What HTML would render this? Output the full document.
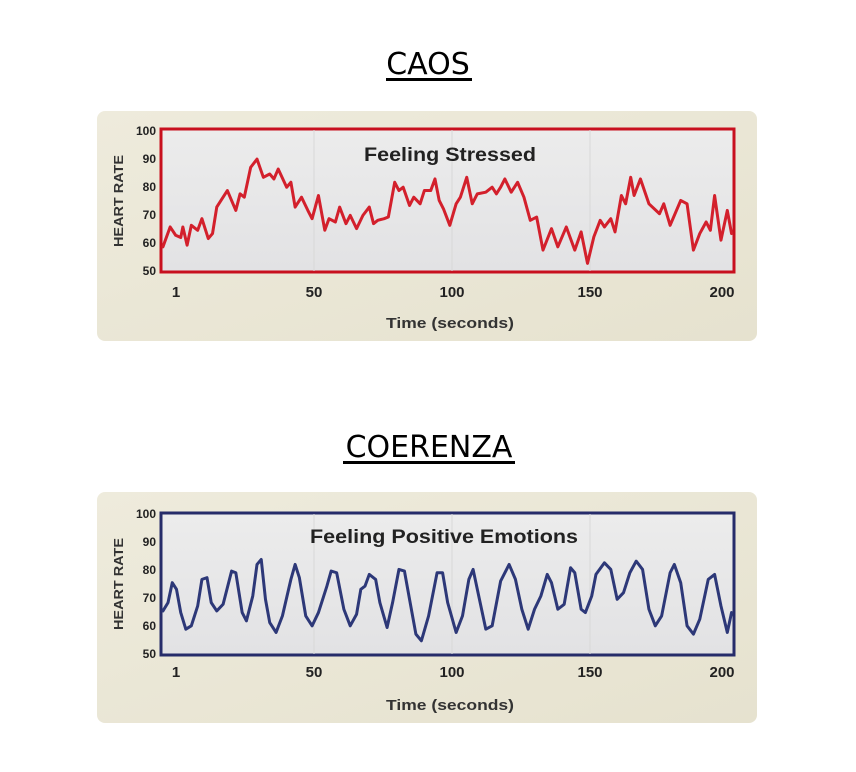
<!DOCTYPE html>
<html><head><meta charset="utf-8"><style>
html,body{margin:0;padding:0;background:#fff;width:856px;height:772px;overflow:hidden}
svg{display:block}
</style></head><body>
<svg width="856" height="772" viewBox="0 0 856 772" xmlns="http://www.w3.org/2000/svg" font-family="Liberation Sans, Arial, sans-serif">
<defs>
<linearGradient id="bg" x1="0" y1="0" x2="1" y2="1"><stop offset="0" stop-color="#eeebdc"/><stop offset="1" stop-color="#e6e2cf"/></linearGradient>
<linearGradient id="pl" x1="0" y1="0" x2="0" y2="1"><stop offset="0" stop-color="#ececec"/><stop offset="1" stop-color="#e2e2e4"/></linearGradient>
</defs>
<text x="428" y="74" text-anchor="middle" font-family="DejaVu Sans, sans-serif" font-size="30" fill="#000">CAOS</text>
<rect x="386" y="78" width="86" height="3" fill="#000"/>
<text x="429" y="457" text-anchor="middle" font-family="DejaVu Sans, sans-serif" font-size="30" fill="#000">COERENZA</text>
<rect x="343" y="461" width="172" height="3" fill="#000"/>

<rect x="97" y="111" width="660" height="230" rx="8" fill="url(#bg)"/>
<rect x="161" y="129" width="573" height="143" fill="url(#pl)" stroke="#c8101e" stroke-width="3"/>
<g stroke="#d8d8d8" stroke-width="1"><line x1="314" y1="130" x2="314" y2="271"/><line x1="452" y1="130" x2="452" y2="271"/><line x1="590" y1="130" x2="590" y2="271"/></g>
<g font-weight="bold" font-size="12" fill="#222" text-anchor="end">
<text x="156" y="135">100</text><text x="156" y="163">90</text><text x="156" y="191">80</text><text x="156" y="219">70</text><text x="156" y="247">60</text><text x="156" y="275">50</text></g>
<g font-weight="bold" font-size="15" fill="#222" text-anchor="middle">
<text x="176" y="297">1</text><text x="314" y="297">50</text><text x="452" y="297">100</text><text x="590" y="297">150</text><text x="722" y="297">200</text></g>
<text x="450" y="161" text-anchor="middle" font-size="19" font-weight="bold" fill="#222" textLength="172" lengthAdjust="spacingAndGlyphs">Feeling Stressed</text>
<text x="450" y="328" text-anchor="middle" font-size="15" font-weight="bold" fill="#333" textLength="128" lengthAdjust="spacingAndGlyphs">Time (seconds)</text>
<text transform="translate(123,201) rotate(-90)" text-anchor="middle" font-size="13" font-weight="bold" fill="#333" textLength="92" lengthAdjust="spacingAndGlyphs">HEART RATE</text>
<g transform="translate(96,107.8) scale(0.4237,0.331)">
<polyline fill="none" stroke="#d3202c" stroke-width="3" vector-effect="non-scaling-stroke" stroke-linejoin="round" stroke-linecap="round" points="158,420 175,360 188,385 200,392 205,360 215,415 225,355 240,370 250,335 265,395 275,380 285,300 295,280 310,250 330,310 340,260 350,270 365,180 380,155 395,210 410,200 420,215 430,185 450,240 460,225 470,300 485,270 500,310 510,335 525,265 540,370 550,335 565,345 575,300 590,350 600,325 615,365 630,325 645,300 655,350 665,340 680,335 690,330 705,225 715,250 725,240 740,295 750,270 765,290 775,250 790,250 800,215 810,280 820,305 835,355 850,290 860,270 875,210 888,290 900,260 920,255 935,240 945,260 955,240 965,215 980,255 995,225 1010,270 1025,340 1040,330 1055,430 1075,365 1090,420 1110,360 1130,430 1145,375 1160,470 1175,390 1190,340 1200,360 1215,335 1225,375 1240,265 1250,290 1262,210 1270,265 1285,215 1305,290 1330,320 1340,290 1355,355 1380,280 1395,290 1410,430 1425,380 1440,345 1450,370 1460,265 1475,400 1490,310 1500,380"/>
</g>

<rect x="97" y="492" width="660" height="231" rx="8" fill="url(#bg)"/>
<rect x="161" y="513" width="573" height="142" fill="url(#pl)" stroke="#262c6a" stroke-width="3"/>
<g stroke="#d8d8d8" stroke-width="1"><line x1="314" y1="514" x2="314" y2="654"/><line x1="452" y1="514" x2="452" y2="654"/><line x1="590" y1="514" x2="590" y2="654"/></g>
<g font-weight="bold" font-size="12" fill="#222" text-anchor="end">
<text x="156" y="518">100</text><text x="156" y="546">90</text><text x="156" y="574">80</text><text x="156" y="602">70</text><text x="156" y="630">60</text><text x="156" y="658">50</text></g>
<g font-weight="bold" font-size="15" fill="#222" text-anchor="middle">
<text x="176" y="677">1</text><text x="314" y="677">50</text><text x="452" y="677">100</text><text x="590" y="677">150</text><text x="722" y="677">200</text></g>
<text x="444" y="543" text-anchor="middle" font-size="19" font-weight="bold" fill="#222" textLength="268" lengthAdjust="spacingAndGlyphs">Feeling Positive Emotions</text>
<text x="450" y="710" text-anchor="middle" font-size="15" font-weight="bold" fill="#333" textLength="128" lengthAdjust="spacingAndGlyphs">Time (seconds)</text>
<text transform="translate(123,584) rotate(-90)" text-anchor="middle" font-size="13" font-weight="bold" fill="#333" textLength="92" lengthAdjust="spacingAndGlyphs">HEART RATE</text>
<g transform="translate(96,489.8) scale(0.4237,0.3318)">
<polyline fill="none" stroke="#2d3878" stroke-width="3" vector-effect="non-scaling-stroke" stroke-linejoin="round" stroke-linecap="round" points="158,365 170,340 180,280 190,300 200,370 212,420 225,410 240,350 250,270 262,265 272,340 285,365 300,345 320,245 330,250 345,370 355,395 370,320 380,225 390,210 400,330 410,400 425,430 440,380 460,270 470,225 480,265 495,380 510,410 525,370 545,290 555,245 568,250 585,360 600,410 615,375 625,300 635,290 645,255 660,270 670,340 687,415 700,340 715,240 728,245 740,330 755,435 768,455 785,380 805,250 818,250 830,340 850,430 865,380 880,270 890,240 905,330 920,420 935,410 955,275 975,225 990,270 1005,360 1020,420 1035,360 1050,320 1065,255 1075,280 1090,360 1105,345 1120,235 1130,250 1145,360 1155,370 1170,320 1180,255 1200,220 1215,240 1230,330 1245,310 1260,250 1275,215 1290,240 1305,360 1320,410 1335,380 1355,250 1365,225 1380,280 1395,410 1410,435 1425,390 1445,270 1460,255 1475,350 1490,430 1500,370"/>
</g>
</svg>
</body></html>
